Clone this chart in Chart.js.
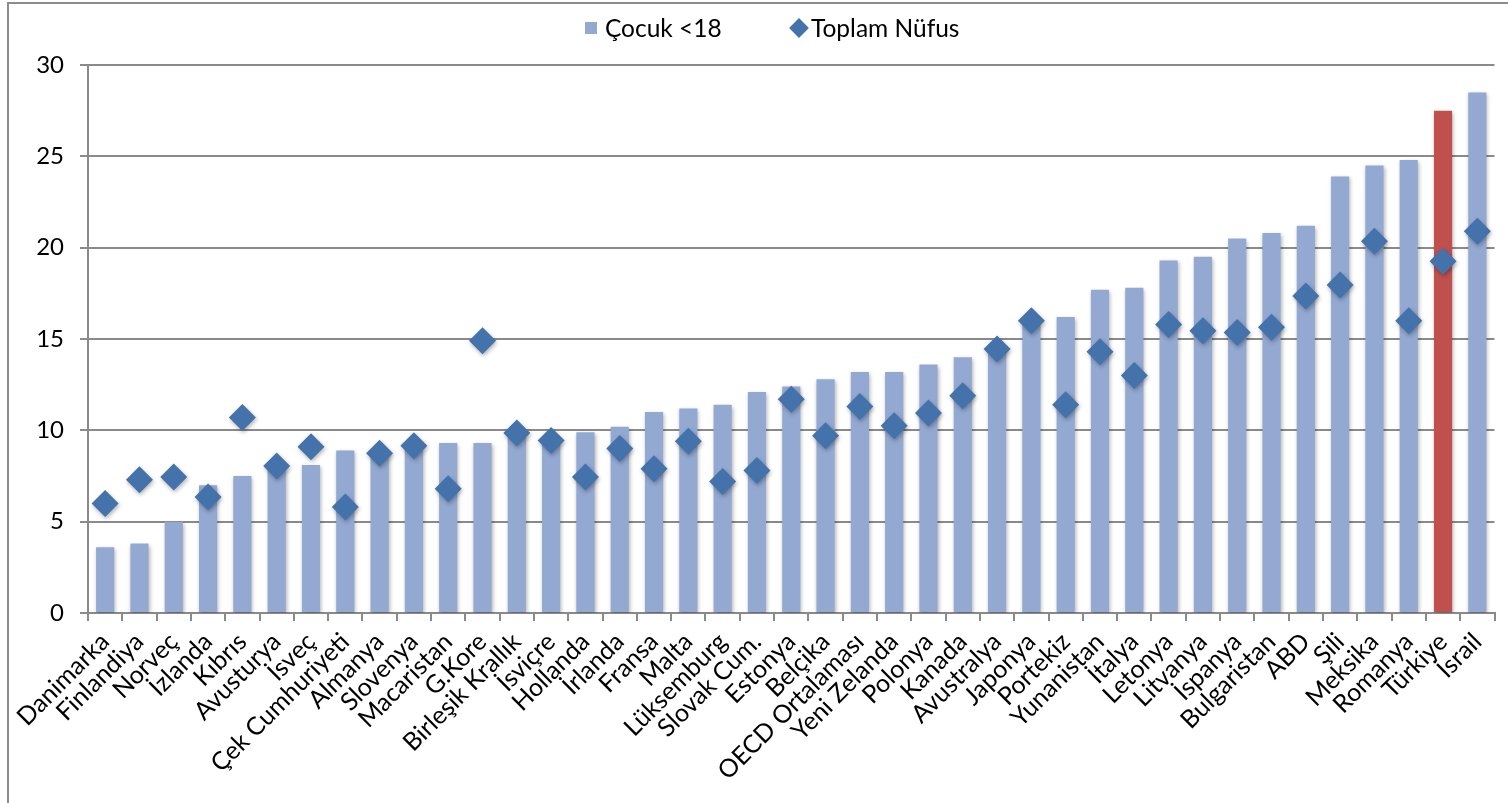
<!DOCTYPE html>
<html lang="tr">
<head>
<meta charset="utf-8">
<title>Çocuk yoksulluğu</title>
<script src="https://cdn.jsdelivr.net/npm/chart.js@4.4.1/dist/chart.umd.min.js"></script>
<style>
  html, body { margin: 0; padding: 0; background: #fff; }
  #wrap { position: relative; width: 1508px; height: 803px; overflow: hidden; font-family: Lato, "Noto Sans", sans-serif; }
  #frame { position: absolute; left: 7px; top: 2px; width: 1520px; height: 820px; border-left: 2px solid #8c8c8c; border-top: 2px solid #8c8c8c; pointer-events: none; }
  .leg { position: absolute; top: 13px; font-size: 24.5px; color: #000; display: flex; align-items: center; white-space: nowrap; }
  .leg .box { width: 12px; height: 12px; margin-right: 8px; }
  .leg .dia { width: 14px; height: 14px; transform: rotate(45deg); margin: 0 5px 0 3px; }
</style>
</head>
<body>
<div id="wrap">
  <canvas id="chart" width="1508" height="803"></canvas>
  <div id="frame"></div>
  <div id="legend"></div>
</div>
<script>
// kategoriler (ulkeler)
const categories = [
  "Danimarka", "Finlandiya", "Norveç", "İzlanda", "Kıbrıs", "Avusturya", "İsveç",
  "Çek Cumhuriyeti", "Almanya", "Slovenya", "Macaristan", "G.Kore", "Birleşik Krallık",
  "İsviçre", "Hollanda", "İrlanda", "Fransa", "Malta", "Lüksemburg", "Slovak Cum.",
  "Estonya", "Belçika", "OECD Ortalaması", "Yeni Zelanda", "Polonya", "Kanada",
  "Avustralya", "Japonya", "Portekiz", "Yunanistan", "İtalya", "Letonya", "Litvanya",
  "İspanya", "Bulgaristan", "ABD", "Şili", "Meksika", "Romanya", "Türkiye", "İsrail"
];

// Cocuk <18 (bar)
const cocukValues = [
  3.6, 3.8, 5.0, 7.0, 7.5, 8.0, 8.1, 8.9, 8.9, 9.1, 9.3, 9.3, 9.8,
  9.5, 9.9, 10.2, 11.0, 11.2, 11.4, 12.1, 12.4, 12.8, 13.2, 13.2, 13.6, 14.0,
  14.6, 15.9, 16.2, 17.7, 17.8, 19.3, 19.5, 20.5, 20.8, 21.2, 23.9, 24.5, 24.8, 27.5, 28.5
];

// Toplam Nufus (elmas)
const toplamValues = [
  6.0, 7.3, 7.45, 6.35, 10.7, 8.05, 9.1, 5.8, 8.75, 9.15, 6.8, 14.9, 9.85,
  9.45, 7.45, 9.0, 7.9, 9.4, 7.2, 7.8, 11.7, 9.7, 11.3, 10.25, 10.95, 11.9,
  14.45, 16.0, 11.4, 14.3, 13.0, 15.8, 15.45, 15.35, 15.65, 17.35, 17.95, 20.35, 16.0, 19.25, 20.9
];

const yTicks = [0, 5, 10, 15, 20, 25, 30];

const barColor = "#93a9d2";
const highlightColor = "#c0504d";
const diamondColor = "#4472aa";
const gridColor = "#8a8a8a";

// Turkiye kirmizi
const barColors = categories.map((c) => (c === "Türkiye" ? highlightColor : barColor));

const shadowPlugin = {
  id: "shadow",
  beforeDatasetDraw(chart) {
    const ctx = chart.ctx;
    ctx.save();
    ctx.shadowColor = "rgba(0,0,0,0.3)";
    ctx.shadowBlur = 4;
    ctx.shadowOffsetX = 1;
    ctx.shadowOffsetY = 2;
  },
  afterDatasetDraw(chart) {
    chart.ctx.restore();
  },
};

const yFont = { family: "Lato, 'Noto Sans', sans-serif", size: 24 };
const xFont = { family: "Lato, 'Noto Sans', sans-serif", size: 25 };

const chart = new Chart(document.getElementById("chart").getContext("2d"), {
  type: "bar",
  data: {
    labels: categories,
    datasets: [
      {
        type: "line",
        label: "Toplam Nüfus",
        data: toplamValues,
        showLine: false,
        pointStyle: "rectRot",
        pointRadius: 13.5,
        pointHoverRadius: 13.5,
        backgroundColor: diamondColor,
        borderColor: diamondColor,
        borderWidth: 0,
        order: 0,
      },
      {
        label: "Çocuk <18",
        data: cocukValues,
        backgroundColor: barColors,
        borderWidth: 0,
        barPercentage: 0.53,
        categoryPercentage: 1,
        order: 1,
      },
    ],
  },
  options: {
    responsive: false,
    animation: false,
    devicePixelRatio: 1,
    layout: { padding: { top: 65, right: 8, left: 0, bottom: 0 } },
    plugins: {
      legend: { display: false },
      tooltip: { enabled: false },
    },
    scales: {
      x: {
        offset: true,
        grid: {
          display: true,
          offset: true,
          drawOnChartArea: false,
          drawTicks: true,
          tickLength: 8,
          color: gridColor,
          lineWidth: 2,
        },
        border: { display: true, color: gridColor, width: 2 },
        ticks: {
          autoSkip: false,
          maxRotation: 45,
          minRotation: 45,
          color: "#000",
          font: xFont,
          padding: 6,
        },
        afterFit(scale) {
          scale.height = 190;
        },
      },
      y: {
        min: 0,
        max: 30,
        afterBuildTicks(scale) {
          scale.ticks = yTicks.map((v) => ({ value: v }));
        },
        grid: {
          color: gridColor,
          lineWidth: 2,
          tickLength: 8,
        },
        border: { display: true, color: gridColor, width: 2 },
        ticks: {
          color: "#000",
          font: yFont,
          padding: 16,
        },
        afterFit(scale) {
          scale.width = 88;
        },
      },
    },
  },
  plugins: [shadowPlugin],
});

// legend (html), renkler dataset'ten
const legendEl = document.getElementById("legend");
const barDs = chart.data.datasets[1];
const dotDs = chart.data.datasets[0];
legendEl.innerHTML =
  `<div class="leg" style="left:585px"><span class="box" style="background:${barColor}"></span>${barDs.label}</div>` +
  `<div class="leg" style="left:789px"><span class="dia" style="background:${dotDs.backgroundColor}"></span>${dotDs.label}</div>`;
</script>
</body>
</html>
